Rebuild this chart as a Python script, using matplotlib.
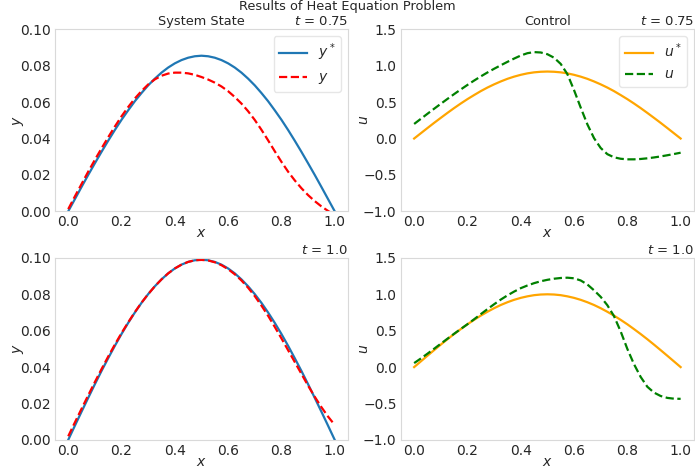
import numpy as np
import matplotlib
matplotlib.use("Agg")
import matplotlib.pyplot as plt

# grid shared by every curve
x = np.linspace(0, 1, 41)

# state at t = 0.75
ystar_075 = [0.0, 0.0067, 0.0134, 0.0200, 0.0264, 0.0327, 0.0388, 0.0447, 0.0503, 0.0555,
             0.0605, 0.0650, 0.0692, 0.0729, 0.0762, 0.0790, 0.0813, 0.0831, 0.0844, 0.0852,
             0.0855, 0.0852, 0.0844, 0.0831, 0.0813, 0.0790, 0.0762, 0.0729, 0.0692, 0.0650,
             0.0605, 0.0555, 0.0503, 0.0447, 0.0388, 0.0327, 0.0264, 0.0200, 0.0134, 0.0067,
             0.0]
y_075 = [0.0012, 0.0082, 0.0150, 0.0218, 0.0283, 0.0346, 0.0407, 0.0466, 0.0522, 0.0573,
         0.0620, 0.0661, 0.0697, 0.0725, 0.0745, 0.0757, 0.0762, 0.0762, 0.0758, 0.0750,
         0.0738, 0.0724, 0.0707, 0.0686, 0.0660, 0.0628, 0.0592, 0.0550, 0.0502, 0.0448,
         0.0390, 0.0330, 0.0272, 0.0218, 0.0170, 0.0127, 0.0089, 0.0056, 0.0027, 0.0002,
         -0.0020]

# state at t = 1.0
ystar_1 = [0.0, 0.0078, 0.0155, 0.0231, 0.0306, 0.0379, 0.0449, 0.0517, 0.0582, 0.0643,
           0.0700, 0.0753, 0.0801, 0.0844, 0.0882, 0.0915, 0.0942, 0.0963, 0.0978, 0.0987,
           0.0990, 0.0987, 0.0978, 0.0963, 0.0942, 0.0915, 0.0882, 0.0844, 0.0801, 0.0753,
           0.0700, 0.0643, 0.0582, 0.0517, 0.0449, 0.0379, 0.0306, 0.0231, 0.0155, 0.0078,
           0.0]
y_1 = [0.0020, 0.0096, 0.0171, 0.0245, 0.0318, 0.0389, 0.0458, 0.0524, 0.0587, 0.0646,
       0.0702, 0.0754, 0.0801, 0.0844, 0.0882, 0.0915, 0.0942, 0.0963, 0.0978, 0.0987,
       0.0989, 0.0986, 0.0976, 0.0960, 0.0938, 0.0910, 0.0876, 0.0836, 0.0790, 0.0738,
       0.0682, 0.0621, 0.0558, 0.0493, 0.0428, 0.0363, 0.0298, 0.0237, 0.0180, 0.0128,
       0.0082]

# control at t = 0.75
ustar_075 = [0.0, 0.072, 0.144, 0.215, 0.284, 0.352, 0.418, 0.481, 0.541, 0.597,
             0.651, 0.700, 0.744, 0.784, 0.820, 0.850, 0.875, 0.895, 0.909, 0.917,
             0.920, 0.917, 0.909, 0.895, 0.875, 0.850, 0.820, 0.784, 0.744, 0.700,
             0.651, 0.597, 0.541, 0.481, 0.418, 0.352, 0.284, 0.215, 0.144, 0.072,
             0.0]
u_075 = [0.200, 0.270, 0.340, 0.409, 0.477, 0.544, 0.610, 0.674, 0.736, 0.796,
         0.853, 0.907, 0.958, 1.006, 1.053, 1.098, 1.140, 1.172, 1.187, 1.182,
         1.158, 1.110, 1.025, 0.885, 0.665, 0.425, 0.195, 0.005, -0.130, -0.215,
         -0.258, -0.278, -0.286, -0.286, -0.281, -0.272, -0.260, -0.246, -0.230, -0.213,
         -0.195]

# control at t = 1.0
ustar_1 = [0.0, 0.078, 0.156, 0.233, 0.309, 0.383, 0.454, 0.522, 0.588, 0.649,
           0.707, 0.760, 0.809, 0.853, 0.891, 0.924, 0.951, 0.972, 0.988, 0.997,
           1.0, 0.997, 0.988, 0.972, 0.951, 0.924, 0.891, 0.853, 0.809, 0.760,
           0.707, 0.649, 0.588, 0.522, 0.454, 0.383, 0.309, 0.233, 0.156, 0.078,
           0.0]
u_1 = [0.055, 0.118, 0.184, 0.252, 0.321, 0.390, 0.458, 0.524, 0.589, 0.657,
       0.727, 0.796, 0.863, 0.927, 0.985, 1.037, 1.084, 1.121, 1.153, 1.179,
       1.199, 1.214, 1.224, 1.228, 1.220, 1.190, 1.135, 1.055, 0.965, 0.850,
       0.700, 0.490, 0.250, 0.040, -0.135, -0.270, -0.350, -0.397, -0.423, -0.434,
       -0.436]

plt.rcParams["font.family"] = "DejaVu Sans"
plt.rcParams["text.color"] = "#262626"
plt.rcParams["axes.labelcolor"] = "#262626"
plt.rcParams["xtick.color"] = "#262626"
plt.rcParams["ytick.color"] = "#262626"

fig, axs = plt.subplots(2, 2, figsize=(6.95, 4.73), dpi=100)
fig.subplots_adjust(left=0.079, right=0.9985, bottom=0.07, top=0.938, wspace=0.18, hspace=0.256)
fig.suptitle("Results of Heat Equation Problem", fontsize=9.3, color="#262626", y=0.999)


def estilo(ax):
    for s in ax.spines.values():
        s.set_color("#d9d9d9")
    ax.tick_params(length=0, labelsize=10, pad=3)
    ax.set_xticks([0.0, 0.2, 0.4, 0.6, 0.8, 1.0])
    ax.yaxis.set_label_coords(-0.10, 0.5)


# state
for linha, (ys, yy, tt) in enumerate([(ystar_075, y_075, "0.75"), (ystar_1, y_1, "1.0")]):
    ax = axs[linha, 0]
    ax.plot(x, ys, color="#1f77b4", lw=1.6, label="$y^*$")
    ax.plot(x, yy, color="red", lw=1.6, ls="--", label="$y$")
    ax.set_ylim(0, 0.1)
    ax.set_yticks([0.0, 0.02, 0.04, 0.06, 0.08, 0.10])
    ax.set_yticklabels(["0.00", "0.02", "0.04", "0.06", "0.08", "0.10"])
    ax.set_xlabel("$x$", fontsize=10, labelpad=-2.5)
    ax.set_ylabel("$y$", fontsize=10)
    ax.set_title("$t$ = " + tt, loc="right", fontsize=9.5, pad=3)
    estilo(ax)
    if linha == 0:
        ax.set_title("System State", fontsize=9.3, pad=3)
        ax.legend(loc="upper right", fontsize=10, handlelength=2.0, framealpha=1, edgecolor="#e6e6e6")

# control
for linha, (us, uu, tt) in enumerate([(ustar_075, u_075, "0.75"), (ustar_1, u_1, "1.0")]):
    ax = axs[linha, 1]
    ax.plot(x, us, color="orange", lw=1.6, label="$u^*$")
    ax.plot(x, uu, color="green", lw=1.6, ls="--", label="$u$")
    ax.set_ylim(-1.0, 1.5)
    ax.set_yticks([-1.0, -0.5, 0.0, 0.5, 1.0, 1.5])
    ax.set_xlabel("$x$", fontsize=10, labelpad=-2.5)
    ax.set_ylabel("$u$", fontsize=10)
    ax.set_title("$t$ = " + tt, loc="right", fontsize=9.5, pad=3)
    estilo(ax)
    if linha == 0:
        ax.set_title("Control", fontsize=9.3, pad=3)
        ax.legend(loc="upper right", fontsize=10, handlelength=2.0, framealpha=1, edgecolor="#e6e6e6")

fig.savefig("out.png", dpi=100)
